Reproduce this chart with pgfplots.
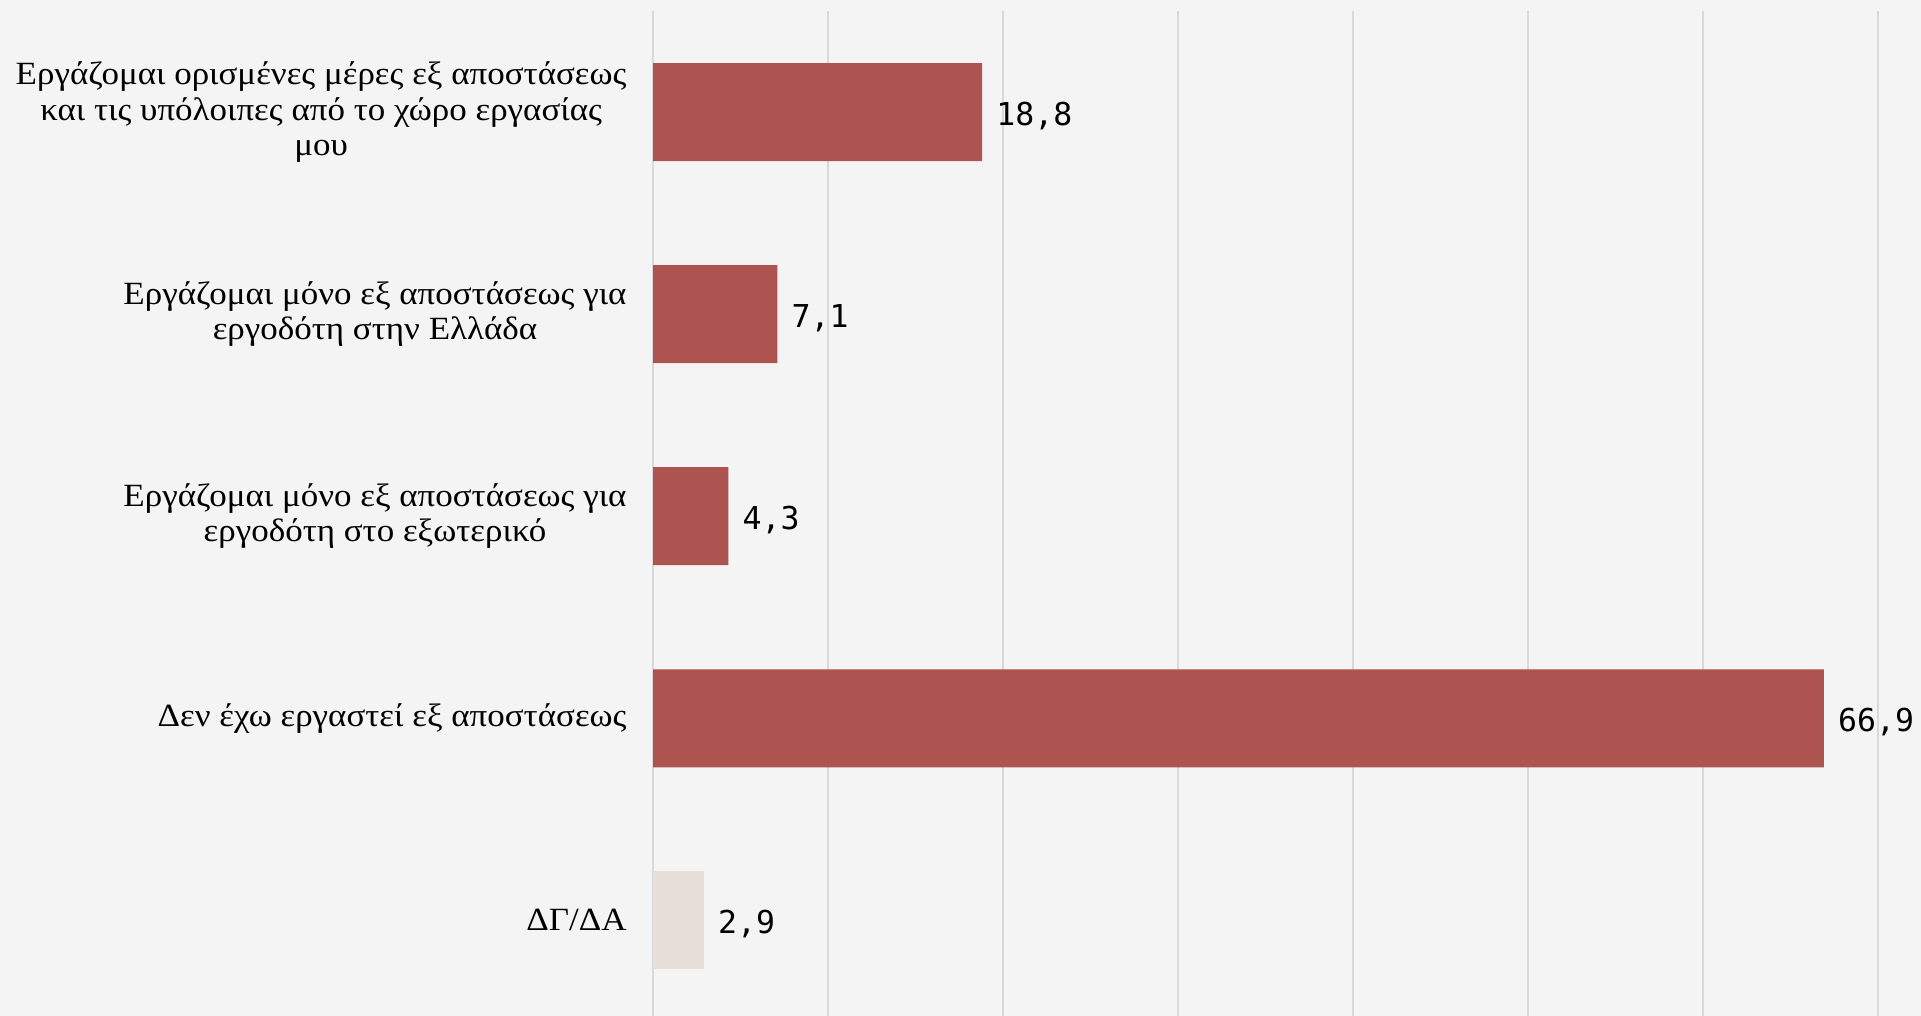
\documentclass[border=0pt]{standalone}
\usepackage{pgfplots}
\pgfplotsset{compat=1.18}
\usepackage{fontspec}
\setmainfont{Liberation Serif}[FakeStretch=1.08]
\newfontfamily\numfont{DejaVu Sans Mono}
\definecolor{bg}{HTML}{F4F4F4}
\definecolor{barred}{HTML}{AD5350}
\definecolor{barbeige}{HTML}{E6E0D8}
\definecolor{gridgray}{HTML}{D9D9D9}

\begin{document}
\begin{tikzpicture}
\fill[bg, use as bounding box] (0,0) rectangle (960.5pt,508pt);
\begin{axis}[
  at={(326.5pt,502.5pt)}, anchor=north west,
  scale only axis,
  width=612.5pt, height=502.5pt,
  xbar, bar width=49pt, bar shift=0pt,
  xmin=0, xmax=70,
  ymin=-0.5, ymax=4.473,
  y dir=reverse,
  clip=false,
  axis line style={draw=none},
  tick style={draw=none},
  xtick={0,10,...,70}, xticklabels={},
  xmajorgrids,
  grid style={gridgray, line width=1pt},
  ytick={0,1,2,3,4},
  yticklabels={
    {Εργάζομαι ορισμένες μέρες εξ αποστάσεως\\και τις υπόλοιπες από το χώρο εργασίας\\μου},
    {Εργάζομαι μόνο εξ αποστάσεως για\\εργοδότη στην Ελλάδα},
    {Εργάζομαι μόνο εξ αποστάσεως για\\εργοδότη στο εξωτερικό},
    {Δεν έχω εργαστεί εξ αποστάσεως},
    {ΔΓ/ΔΑ}},
  yticklabel style={font=\fontsize{16.2pt}{17.75pt}\selectfont, align=center,
    inner sep=0pt, xshift=-8.75pt},
  point meta=explicit symbolic,
  nodes near coords,
  nodes near coords style={font=\numfont\fontsize{15.75pt}{16pt}\selectfont,
    anchor=base west, inner sep=0pt, xshift=7pt, yshift=-6.65pt, black},
]
\addplot[fill=barred, draw=none] table[meta=label] {
x y label
18.8 0 18,8
7.1 1 7,1
4.3 2 4,3
66.9 3 66,9
};
\addplot[fill=barbeige, draw=none] table[meta=label] {
x y label
2.9 4 2,9
};
\end{axis}
\end{tikzpicture}
\end{document}
